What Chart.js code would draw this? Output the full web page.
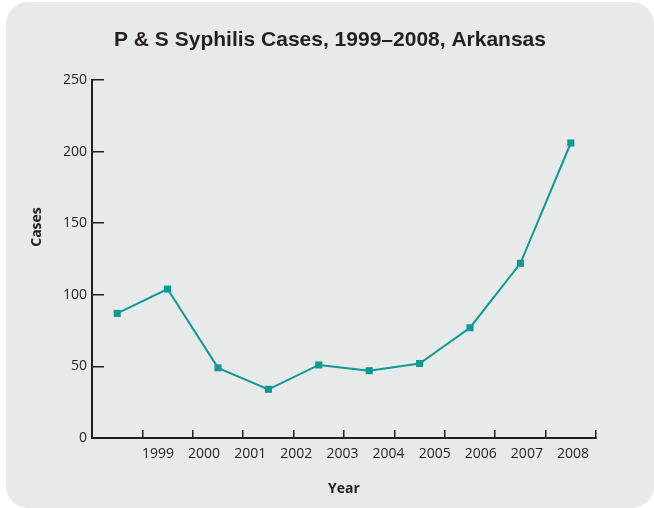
<!DOCTYPE html>
<html lang="en">
<head>
  <meta charset="UTF-8">
  <title>P &amp; S Syphilis Cases, Arkansas</title>
  <script src="https://cdn.jsdelivr.net/npm/chart.js"></script>
  <style>
    html, body { margin: 0; padding: 0; background: #ffffff; }
    .panel {
      position: absolute; left: 6px; top: 2px; width: 648px; height: 506px;
      background: #e8e9e9; border-radius: 22px;
    }
    .chart-box { position: absolute; left: 0; top: 0; width: 654px; height: 508px; }
  </style>
</head>
<body>
<div class="panel"></div>
<div class="chart-box"><canvas id="casesChart"></canvas></div>

<script>
const chartTitle = "P & S Syphilis Cases, 1999\u20132008, Arkansas";
const years = ["1999", "2000", "2001", "2002", "2003", "2004", "2005", "2006", "2007", "2008"];
const cases = [87, 104, 49, 34, 51, 47, 52, 77, 122, 206];
const yTicks = [0, 50, 100, 150, 200, 250];
const yTitle = "Cases";
const xTitle = "Year";

const ink = "#231f20";
const teal = "#0c9a95";

// y title sits a bit above the middle of the axis, so draw it by hand
const yTitlePlugin = {
  id: 'yTitle',
  afterDraw(chart) {
    const ctx = chart.ctx;
    ctx.save();
    ctx.translate(37, 227);
    ctx.rotate(-Math.PI / 2);
    ctx.font = 'bold 14px "Open Sans"';
    ctx.fillStyle = ink;
    ctx.textAlign = 'center';
    ctx.textBaseline = 'middle';
    ctx.fillText(yTitle, 0, 0);
    ctx.restore();
  }
};

new Chart(document.getElementById("casesChart"), {
  type: 'line',
  data: {
    labels: years,
    datasets: [{
      data: cases,
      borderColor: teal,
      borderWidth: 2,
      pointStyle: 'rect',
      pointRadius: 5,
      pointBorderWidth: 0,
      pointBackgroundColor: teal,
      tension: 0
    }]
  },
  options: {
    responsive: true,
    maintainAspectRatio: false,
    animation: false,
    // left/right padding chosen so the title centres near x=330
    layout: { padding: { left: 64, right: 58, top: 0, bottom: 0 } },
    plugins: {
      legend: { display: false },
      tooltip: { enabled: false },
      title: {
        display: true,
        text: chartTitle,
        color: ink,
        font: { family: '"Liberation Sans", Arial, sans-serif', size: 21, weight: 'bold' },
        padding: { top: 27.4, bottom: 27.4 }
      }
    },
    scales: {
      x: {
        type: 'category',
        position: 'bottom',
        weight: 0,
        offset: true,
        grid: { offset: true, drawOnChartArea: false, tickLength: -8, color: ink, lineWidth: 1.5 },
        border: { color: ink, width: 2 },
        ticks: { display: false },
        afterFit: s => { s.height = 0; }
      },
      xLabels: {
        type: 'linear',
        position: 'bottom',
        weight: 1,
        min: -1.431,
        max: 9.499,
        afterBuildTicks: s => { s.ticks = years.map((y, i) => ({ value: i })); },
        grid: { display: false, drawTicks: false },
        border: { display: false },
        ticks: {
          autoSkip: false, maxRotation: 0, padding: 8, color: ink,
          font: { family: '"Open Sans"', size: 14 },
          callback: v => years[v]
        },
        title: {
          display: true, text: xTitle, color: ink,
          font: { family: '"Open Sans"', size: 14, weight: 'bold' },
          padding: { top: 0, bottom: 11 }
        },
        afterFit: s => { s.height = 70; }
      },
      y: {
        min: 0,
        max: 250,
        afterBuildTicks: s => { s.ticks = yTicks.map(v => ({ value: v })); },
        grid: { drawOnChartArea: false, tickLength: -12, color: ink, lineWidth: 1.5 },
        border: { color: ink, width: 2 },
        ticks: { padding: 17, color: ink, font: { family: '"Open Sans"', size: 14 } },
        afterFit: s => { s.width = 28; }
      }
    }
  },
  plugins: [yTitlePlugin]
});
</script>
</body>
</html>
